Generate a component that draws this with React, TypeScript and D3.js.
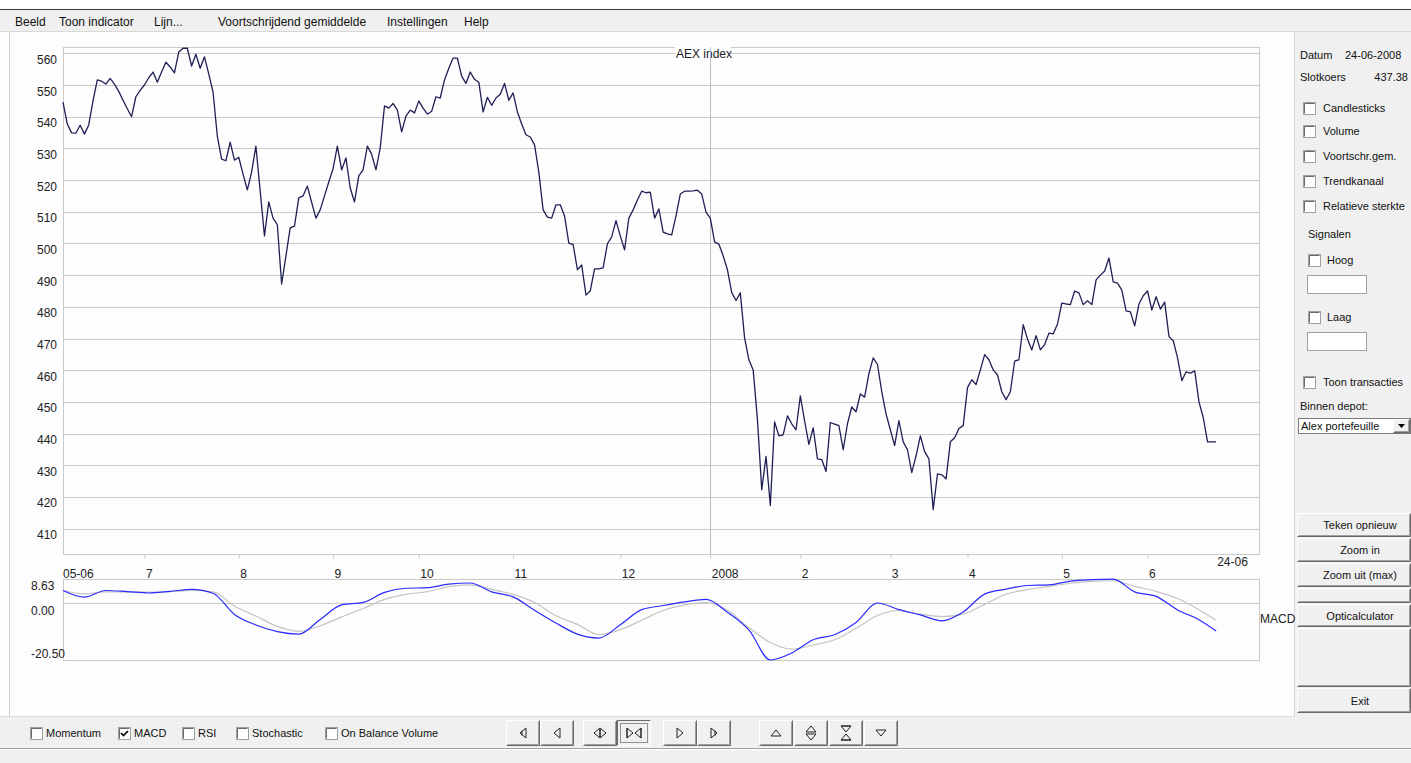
import React, { useRef, useEffect } from "react";
import * as d3 from "d3";

// Slotkoersen AEX index, handelsdagen 05-06-2007 t/m 24-06-2008
const closes = [
  544.6, 537.7, 534.9, 534.8, 537.3, 534.5, 537.4, 545.0, 551.6, 551.2,
  550.3, 552.1, 550.3, 548.0, 545.2, 542.5, 540.0, 546.3, 548.3, 550.0,
  552.3, 554.1, 550.9, 554.1, 557.2, 555.7, 553.8, 560.4, 561.6, 561.6,
  556.0, 559.7, 555.3, 558.9, 553.5, 547.8, 533.9, 526.6, 526.1, 532.0,
  526.3, 527.2, 521.9, 516.9, 522.5, 530.7, 516.5, 502.4, 513.1, 508.0,
  505.9, 487.2, 496.0, 504.9, 505.5, 514.4, 515.0, 518.1, 513.0, 508.0,
  510.6, 515.0, 519.4, 523.6, 530.7, 523.2, 527.0, 517.5, 513.1, 521.3,
  523.2, 530.7, 528.2, 523.2, 530.1, 543.4, 542.7, 544.2, 542.1, 535.2,
  540.2, 542.1, 541.2, 545.0, 542.7, 540.8, 541.7, 546.3, 545.9, 551.6,
  555.3, 558.5, 558.5, 552.8, 550.5, 554.1, 551.8, 550.9, 541.5, 546.1,
  543.6, 545.9, 547.1, 550.5, 545.2, 547.5, 541.5, 537.7, 534.3, 533.6,
  531.1, 522.5, 510.6, 508.3, 508.0, 512.2, 512.2, 508.7, 500.1, 499.6,
  491.7, 493.2, 483.7, 485.0, 492.0, 492.0, 492.3, 499.9, 502.1, 507.2,
  502.4, 498.0, 508.0, 510.6, 513.7, 516.5, 516.0, 516.2, 508.0, 510.9,
  503.6, 503.0, 502.7, 508.7, 515.6, 516.5, 516.5, 516.6, 516.8, 515.6,
  509.9, 508.0, 500.5, 499.8, 496.1, 491.7, 484.5, 482.0, 484.4, 470.2,
  463.3, 460.1, 444.4, 422.3, 432.8, 417.3, 443.7, 439.3, 439.6, 445.6,
  443.1, 441.2, 451.9, 444.0, 436.6, 441.8, 432.0, 431.8, 428.0, 443.5,
  443.0, 442.5, 434.9, 443.1, 448.4, 446.9, 452.5, 451.5, 458.9, 463.9,
  461.8, 453.2, 446.2, 441.2, 436.2, 444.1, 437.4, 434.9, 427.7, 433.0,
  439.3, 434.3, 432.0, 416.0, 427.3, 427.0, 425.7, 437.4, 438.7, 441.6,
  442.5, 454.5, 457.0, 455.5, 460.1, 464.9, 463.3, 460.1, 458.5, 453.2,
  450.7, 453.2, 462.9, 463.3, 474.4, 469.8, 466.4, 470.9, 466.4, 468.1,
  471.7, 471.5, 474.6, 481.2, 480.9, 480.7, 485.0, 484.4, 480.7, 481.9,
  480.7, 488.5, 490.0, 491.3, 495.4, 487.9, 487.5, 485.3, 478.7, 478.4,
  474.0, 480.9, 483.5, 485.0, 479.0, 483.2, 479.3, 481.5, 470.6, 469.3,
  463.9, 456.7, 459.5, 459.1, 459.8, 450.0, 445.0, 437.4, 437.4, 437.38,
];

// eerste handelsdag van elke maand (index in closes)
const monthTickIdx = [19, 41, 63, 83, 105, 130, 151, 172, 193, 211, 233, 253];
const monthTickLabels = ["7", "8", "9", "10", "11", "12", "2008", "2", "3", "4", "5", "6"];
const yearIdx = 151;
const startLabel = "05-06";
const endLabel = "24-06";
const priceTicks = [410, 420, 430, 440, 450, 460, 470, 480, 490, 500, 510, 520, 530, 540, 550, 560];

const macdIdx = [
  0, 5, 10, 15, 20, 25, 30, 35, 40, 45, 50, 55, 60, 65, 70, 75, 80, 85, 90, 95,
  100, 105, 110, 115, 120, 125, 130, 135, 140, 145, 150, 155, 160, 165, 170, 175, 180, 185, 190, 195,
  200, 205, 210, 215, 220, 225, 230, 235, 240, 245, 250, 255, 260, 265, 269,
];
const macdValues = [
  4.5, 2.1, 4.5, 4.1, 3.6, 4.2, 4.9, 3.5, -4.1, -7.9, -10.3, -11.2, -5.9, -0.7, 0.2, 3.8, 5.3, 5.5, 6.8, 7.2,
  4.0, 2.2, -2.6, -7.2, -11.2, -12.6, -7.8, -2.4, -0.9, 0.4, 1.3, -3.3, -9.7, -20.5, -18.0, -13.2, -11.4, -7.0, 0.0, -2.4,
  -4.3, -6.4, -3.2, 3.2, 5.0, 6.3, 6.5, 7.9, 8.4, 8.6, 4.0, 2.4, -2.5, -6.0, -10.1,
];
const signalValues = [
  4.5, 3.3, 4.0, 3.9, 3.9, 4.1, 4.5, 4.0, -1.1, -4.7, -8.4, -10.2, -8.2, -5.0, -2.0, 1.3, 3.1, 4.1, 5.9, 6.5,
  4.9, 3.1, 0.2, -4.6, -7.7, -11.4, -9.6, -6.2, -2.7, -0.7, 0.1, -2.6, -8.9, -14.2, -16.6, -15.1, -13.2, -9.1, -4.5, -2.7,
  -4.0, -4.9, -4.0, -0.5, 3.2, 4.8, 6.0, 7.1, 7.8, 8.0, 6.0, 4.2, 1.6, -2.4, -6.2,
];
const macdTicks = [8.63, 0, -20.5];
const macdTickLabels = ["8.63", "0.00", "-20.50"];

const menuItems = ["Beeld", "Toon indicator", "Lijn...", "Voortschrijdend gemiddelde", "Instellingen", "Help"];
const optionChecks = ["Candlesticks", "Volume", "Voortschr.gem.", "Trendkanaal", "Relatieve sterkte"];
const indicatorChecks = ["Momentum", "MACD", "RSI", "Stochastic", "On Balance Volume"];
const indicatorChecked = [false, true, false, false, false];
const panelButtons = ["Teken opnieuw", "Zoom in", "Zoom uit (max)", "", "Opticalculator", "", "Exit"];

const FONT = "'Liberation Sans', Arial, sans-serif";

// layout
const menuX = [15, 59, 154, 218, 387, 464];
const optionY = [108, 131, 156, 181, 206];
const indicatorBoxX = [30, 118, 182, 236, 325];
const panelBtnY = [513, 538, 563, 588, 604, 628, 688];
const panelBtnH = [24, 24, 24, 15, 23, 59, 25];
const navX = [506, 540, 583, 617, 663, 697, 759, 794, 829, 864];

const CheckBox = ({ x, y, checked }: { x: number; y: number; checked?: boolean }) => (
  <g>
    <rect x={x + 0.5} y={y + 0.5} width={12} height={12} fill="#fff" stroke="#a0a0a0" />
    <path d={`M${x + 1.5} ${y + 11.5}V${y + 1.5}H${x + 11.5}`} stroke="#6a6a6a" fill="none" />
    {checked && (
      <path d={`M${x + 3} ${y + 6}l2.5 2.5l4.5 -4.5`} stroke="#000" strokeWidth={1.7} fill="none" />
    )}
  </g>
);

const Button = ({ x, y, w, h, pressed }: { x: number; y: number; w: number; h: number; pressed?: boolean }) => (
  <g>
    <rect x={x} y={y} width={w} height={h} fill="#f0f0f0" />
    <path
      d={`M${x + 0.5} ${y + h - 0.5}V${y + 0.5}H${x + w - 0.5}`}
      stroke={pressed ? "#696969" : "#fff"}
      fill="none"
    />
    <path
      d={`M${x + 0.5} ${y + h - 0.5}H${x + w - 0.5}V${y + 0.5}`}
      stroke={pressed ? "#fff" : "#696969"}
      fill="none"
    />
    {!pressed && (
      <path d={`M${x + 1.5} ${y + h - 1.5}H${x + w - 1.5}V${y + 1.5}`} stroke="#a0a0a0" fill="none" />
    )}
    {pressed && (
      <rect x={x + 3.5} y={y + 3.5} width={w - 7} height={h - 7} fill="none" stroke="#333" strokeDasharray="1,1" />
    )}
  </g>
);

const navIcon = (i: number, cx: number, cy: number) => {
  const L = (dx: number) => `M${cx + dx + 3} ${cy - 5}L${cx + dx - 3} ${cy}L${cx + dx + 3} ${cy + 5}Z`;
  const R = (dx: number) => `M${cx + dx - 3} ${cy - 5}L${cx + dx + 3} ${cy}L${cx + dx - 3} ${cy + 5}Z`;
  const U = (dy: number) => `M${cx - 5} ${cy + dy + 3}L${cx} ${cy + dy - 3}L${cx + 5} ${cy + dy + 3}Z`;
  const D = (dy: number) => `M${cx - 5} ${cy + dy - 3}L${cx} ${cy + dy + 3}L${cx + 5} ${cy + dy - 3}Z`;
  const paths = [
    [L(0), `M${cx - 1} ${cy - 2.5}L${cx - 1} ${cy + 2.5}`],
    [L(0)],
    [L(-3), R(3)],
    [R(-4), L(4), `M${cx - 7} ${cy - 5}V${cy + 5}M${cx + 7} ${cy - 5}V${cy + 5}`],
    [R(0)],
    [R(0), `M${cx + 1} ${cy - 2.5}L${cx + 1} ${cy + 2.5}`],
    [U(0)],
    [U(-4), D(4)],
    [D(-4), U(4), `M${cx - 5} ${cy - 7}H${cx + 5}M${cx - 5} ${cy + 7}H${cx + 5}`],
    [D(0)],
  ][i];
  return paths.map((d, k) => <path key={k} d={d} fill="none" stroke="#222" strokeWidth={1} />);
};

const AexChart = () => {
  const ref = useRef<SVGGElement>(null);

  useEffect(() => {
    const g = d3.select(ref.current);
    g.selectAll("*").remove();

    const x = d3.scaleLinear().domain([0, 279]).range([63, 1259]);
    const y = d3.scaleLinear().domain([402, 562]).range([554, 47]);
    const ym = d3.scaleLinear().domain([-20.5, 8.63]).range([660, 579]);
    const px = (v: number) => Math.round(v) + 0.5;
    const grid = "#c9c9c9";

    // rasterlijnen koers
    g.append("g")
      .selectAll("line")
      .data(priceTicks)
      .join("line")
      .attr("x1", 63)
      .attr("x2", 1259)
      .attr("y1", (d) => px(y(d)))
      .attr("y2", (d) => px(y(d)))
      .attr("stroke", grid);

    g.append("rect")
      .attr("x", 63.5)
      .attr("y", 47.5)
      .attr("width", 1196)
      .attr("height", 507)
      .attr("fill", "none")
      .attr("stroke", grid);

    // y-labels (iets onder de lijn, zoals het origineel)
    g.append("g")
      .attr("font-family", FONT)
      .attr("font-size", 12)
      .attr("fill", "#222")
      .attr("text-anchor", "end")
      .selectAll("text")
      .data(priceTicks)
      .join("text")
      .attr("x", 57)
      .attr("y", (d) => y(d) + 10.5)
      .text((d) => d);

    // titel
    g.append("rect").attr("x", 675).attr("y", 46).attr("width", 56).attr("height", 13).attr("fill", "#fff");
    g.append("text")
      .attr("x", 676)
      .attr("y", 58)
      .attr("font-family", FONT)
      .attr("font-size", 12)
      .attr("fill", "#222")
      .text("AEX index");

    // jaarlijn
    g.append("line")
      .attr("x1", px(x(yearIdx)))
      .attr("x2", px(x(yearIdx)))
      .attr("y1", 47)
      .attr("y2", 554)
      .attr("stroke", "#bdbdbd");

    // x-as
    const ax = g
      .append("g")
      .attr("transform", "translate(0,554.5)")
      .call(
        d3
          .axisBottom(x)
          .tickValues(monthTickIdx)
          .tickSize(4)
          .tickFormat((d, i) => monthTickLabels[i])
      );
    ax.select(".domain").remove();
    ax.selectAll(".tick line").attr("stroke", grid);
    ax.selectAll(".tick text")
      .attr("text-anchor", "start")
      .attr("font-family", FONT)
      .attr("font-size", 12)
      .attr("fill", "#222")
      .attr("dy", 0)
      .attr("dx", 1)
      .attr("y", 23.5);

    g.append("text")
      .attr("x", x(0))
      .attr("y", 578)
      .attr("font-family", FONT)
      .attr("font-size", 12)
      .attr("fill", "#222")
      .text(startLabel);
    g.append("text")
      .attr("x", x(closes.length - 1) + 1)
      .attr("y", 566)
      .attr("font-family", FONT)
      .attr("font-size", 12)
      .attr("fill", "#222")
      .text(endLabel);

    // koerslijn
    const line = d3
      .line<number>()
      .x((d, i) => x(i))
      .y((d) => y(d));
    g.append("path")
      .datum(closes)
      .attr("d", line)
      .attr("fill", "none")
      .attr("stroke", "#1f1f56")
      .attr("stroke-width", 1.3)
      .attr("stroke-linejoin", "round");

    // MACD paneel
    g.append("rect")
      .attr("x", 63.5)
      .attr("y", 579.5)
      .attr("width", 1196)
      .attr("height", 81)
      .attr("fill", "none")
      .attr("stroke", grid);
    g.append("line")
      .attr("x1", 63)
      .attr("x2", 1259)
      .attr("y1", px(ym(0)))
      .attr("y2", px(ym(0)))
      .attr("stroke", grid);

    const labelOffset = [11, 12, -2];
    g.append("g")
      .attr("font-family", FONT)
      .attr("font-size", 12)
      .attr("fill", "#222")
      .selectAll("text")
      .data(macdTicks)
      .join("text")
      .attr("x", 31)
      .attr("y", (d, i) => ym(d) + labelOffset[i])
      .text((d, i) => macdTickLabels[i]);

    const mline = (vals: number[]) =>
      d3
        .line<number>()
        .x((d, i) => x(macdIdx[i]))
        .y((d) => ym(d))
        .curve(d3.curveMonotoneX)(vals);

    g.append("path")
      .attr("d", mline(signalValues))
      .attr("fill", "none")
      .attr("stroke", "#c4c4c4")
      .attr("stroke-width", 1.2);
    g.append("path")
      .attr("d", mline(macdValues))
      .attr("fill", "none")
      .attr("stroke", "#2b2bff")
      .attr("stroke-width", 1.2);

    g.append("text")
      .attr("x", 1260)
      .attr("y", 623)
      .attr("font-family", FONT)
      .attr("font-size", 12)
      .attr("fill", "#222")
      .text("MACD");
  }, []);

  return <g ref={ref} />;
};

export default function App() {
  return (
    <div style={{ position: "absolute", left: 0, top: 0 }}>
      <svg width={1411} height={763} style={{ display: "block" }}>
        {/* achtergrond */}
        <rect x={0} y={0} width={1411} height={763} fill="#f0f0f0" />
        <rect x={0} y={0} width={1411} height={9} fill="#fff" />
        <line x1={0} x2={1411} y1={9.5} y2={9.5} stroke="#3a3a3a" />
        <line x1={0} x2={1411} y1={31.5} y2={31.5} stroke="#d8d8d8" />
        <rect x={0} y={32} width={1295} height={685} fill="#fdfdfd" />
        <line x1={9.5} x2={9.5} y1={32} y2={716} stroke="#cfcfcf" />
        <line x1={1294.5} x2={1294.5} y1={32} y2={716} stroke="#d6d6d6" />
        <line x1={0} x2={1295} y1={716.5} y2={716.5} stroke="#dcdcdc" />

        {/* menubalk */}
        <g fontFamily={FONT} fontSize={12} fill="#111">
          {menuItems.map((m, i) => (
            <text key={m} x={menuX[i]} y={26}>
              {m}
            </text>
          ))}
        </g>

        <AexChart />

        {/* rechter paneel */}
        <g fontFamily={FONT} fontSize={11} fill="#111">
          <text x={1300} y={59}>Datum</text>
          <text x={1345} y={59}>24-06-2008</text>
          <text x={1300} y={81}>Slotkoers</text>
          <text x={1408} y={81} textAnchor="end">437.38</text>
          {optionChecks.map((c, i) => (
            <g key={c}>
              <CheckBox x={1303} y={optionY[i] - 6} />
              <text x={1323} y={optionY[i] + 4}>{c}</text>
            </g>
          ))}
          <text x={1308} y={238}>Signalen</text>
          <CheckBox x={1308} y={254} />
          <text x={1327} y={264}>Hoog</text>
          <rect x={1307.5} y={275.5} width={59} height={18} fill="#fff" stroke="#a0a0a0" />
          <CheckBox x={1308} y={311} />
          <text x={1327} y={321}>Laag</text>
          <rect x={1307.5} y={332.5} width={59} height={18} fill="#fff" stroke="#a0a0a0" />
          <CheckBox x={1303} y={376} />
          <text x={1323} y={386}>Toon transacties</text>
          <text x={1300} y={410}>Binnen depot:</text>
          <rect x={1298.5} y={418.5} width={112} height={15} fill="#fff" stroke="#7a7a7a" />
          <text x={1301} y={430}>Alex portefeuille</text>
          <Button x={1393} y={419} w={17} h={14} />
          <path d="M1398 424h7l-3.5 4z" fill="#000" />
          {panelButtons.map((b, i) => (
            <g key={i}>
              <Button x={1297} y={panelBtnY[i]} w={114} h={panelBtnH[i]} />
              {b && (
                <text x={1360} y={panelBtnY[i] + panelBtnH[i] / 2 + 4} textAnchor="middle">
                  {b}
                </text>
              )}
            </g>
          ))}
        </g>

        {/* onderbalk */}
        <g fontFamily={FONT} fontSize={11} fill="#111">
          {indicatorChecks.map((c, i) => (
            <g key={c}>
              <CheckBox x={indicatorBoxX[i]} y={727} checked={indicatorChecked[i]} />
              <text x={indicatorBoxX[i] + 16} y={737}>{c}</text>
            </g>
          ))}
          {navX.map((nx, i) => (
            <g key={i}>
              <Button x={nx} y={720} w={34} h={26} pressed={i === 3} />
              {navIcon(i, nx + 17, 733)}
            </g>
          ))}
        </g>
        <line x1={0} x2={1411} y1={748.5} y2={748.5} stroke="#a0a0a0" />
        <line x1={0} x2={1411} y1={749.5} y2={749.5} stroke="#fff" />
      </svg>
    </div>
  );
}
